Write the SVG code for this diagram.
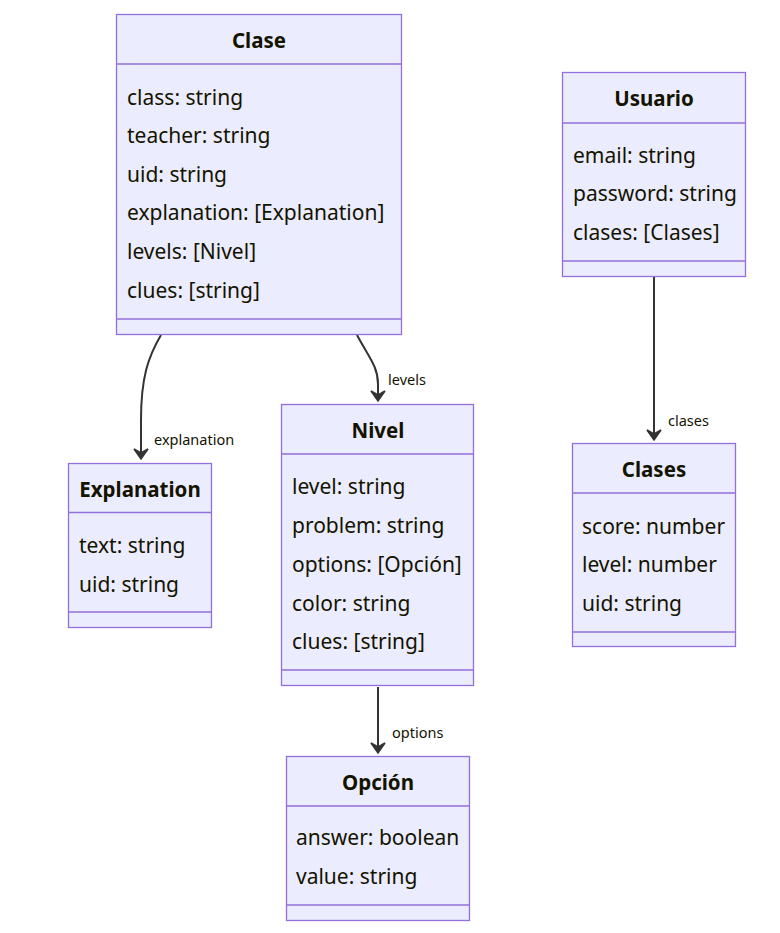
<svg xmlns="http://www.w3.org/2000/svg" width="780" height="933" viewBox="0 0 780 933">
<style>
.box{fill:#ECECFF;stroke:#9370DB;stroke-width:1.3}
.div{stroke:#9370DB;stroke-width:1.3}
.title{font-family:"Noto Sans","DejaVu Sans",sans-serif;font-size:20.5px;font-weight:bold;fill:#131300;text-anchor:middle}
.attr{font-family:"Noto Sans","DejaVu Sans",sans-serif;font-size:21px;fill:#131300}
.edge{fill:none;stroke:#333333;stroke-width:2}
.lbl{font-family:"Noto Sans","DejaVu Sans",sans-serif;font-size:14.5px;fill:#131300}
</style>
<defs>
<marker id="arr" markerUnits="userSpaceOnUse" markerWidth="16" markerHeight="18" refX="11" refY="8" orient="auto">
<path d="M1,1 L11,8 L1,15 L5,8 z" fill="#333333" stroke="#333333" stroke-width="1.5" stroke-linejoin="miter"/>
</marker>
</defs>
<rect width="780" height="933" fill="#ffffff"/>
<g id="edges">
<path class="edge" d="M161,335 C148,357 141,378 141,420 L141,459" marker-end="url(#arr)"/>
<text class="lbl" x="154" y="445">explanation</text>
<path class="edge" d="M357,335 C368,356 378,366 378,384 L378,401" marker-end="url(#arr)"/>
<text class="lbl" x="388" y="385">levels</text>
<path class="edge" d="M654,277 L654,440" marker-end="url(#arr)"/>
<text class="lbl" x="668" y="426">clases</text>
<path class="edge" d="M378,687 L378,753" marker-end="url(#arr)"/>
<text class="lbl" x="392" y="738">options</text>
</g>
<g id="Clase">
<rect class="box" x="116.5" y="14.5" width="285" height="320"/>
<line class="div" x1="116.5" y1="64" x2="401.5" y2="64"/>
<line class="div" x1="116.5" y1="319" x2="401.5" y2="319"/>
<text class="title" x="259" y="48">Clase</text>
<text class="attr" x="127" y="105">class: string</text>
<text class="attr" x="127" y="143">teacher: string</text>
<text class="attr" x="127" y="182">uid: string</text>
<text class="attr" x="127" y="220">explanation: [Explanation]</text>
<text class="attr" x="127" y="259">levels: [Nivel]</text>
<text class="attr" x="127" y="298">clues: [string]</text>
</g>
<g id="Usuario">
<rect class="box" x="562.5" y="72.5" width="183" height="204"/>
<line class="div" x1="562.5" y1="123" x2="745.5" y2="123"/>
<line class="div" x1="562.5" y1="261" x2="745.5" y2="261"/>
<text class="title" x="654" y="106">Usuario</text>
<text class="attr" x="573" y="163">email: string</text>
<text class="attr" x="573" y="201">password: string</text>
<text class="attr" x="573" y="240">clases: [Clases]</text>
</g>
<g id="Explanation">
<rect class="box" x="68.5" y="463.5" width="143" height="164"/>
<line class="div" x1="68.5" y1="512.5" x2="211.5" y2="512.5"/>
<line class="div" x1="68.5" y1="612" x2="211.5" y2="612"/>
<text class="title" x="140" y="497">Explanation</text>
<text class="attr" x="79" y="553">text: string</text>
<text class="attr" x="79" y="592">uid: string</text>
</g>
<g id="Nivel">
<rect class="box" x="281.5" y="404.5" width="192" height="281"/>
<line class="div" x1="281.5" y1="454" x2="473.5" y2="454"/>
<line class="div" x1="281.5" y1="670" x2="473.5" y2="670"/>
<text class="title" x="378" y="438">Nivel</text>
<text class="attr" x="292" y="494">level: string</text>
<text class="attr" x="292" y="533">problem: string</text>
<text class="attr" x="292" y="572">options: [Opción]</text>
<text class="attr" x="292" y="611">color: string</text>
<text class="attr" x="292" y="649">clues: [string]</text>
</g>
<g id="Clases">
<rect class="box" x="572.5" y="443.5" width="163" height="203"/>
<line class="div" x1="572.5" y1="493" x2="735.5" y2="493"/>
<line class="div" x1="572.5" y1="632" x2="735.5" y2="632"/>
<text class="title" x="654" y="477">Clases</text>
<text class="attr" x="582" y="534">score: number</text>
<text class="attr" x="582" y="572">level: number</text>
<text class="attr" x="582" y="611">uid: string</text>
</g>
<g id="Opcion">
<rect class="box" x="286.5" y="756.5" width="183" height="164"/>
<line class="div" x1="286.5" y1="806" x2="469.5" y2="806"/>
<line class="div" x1="286.5" y1="905" x2="469.5" y2="905"/>
<text class="title" x="378" y="790">Opción</text>
<text class="attr" x="296" y="845">answer: boolean</text>
<text class="attr" x="296" y="884">value: string</text>
</g>
</svg>
